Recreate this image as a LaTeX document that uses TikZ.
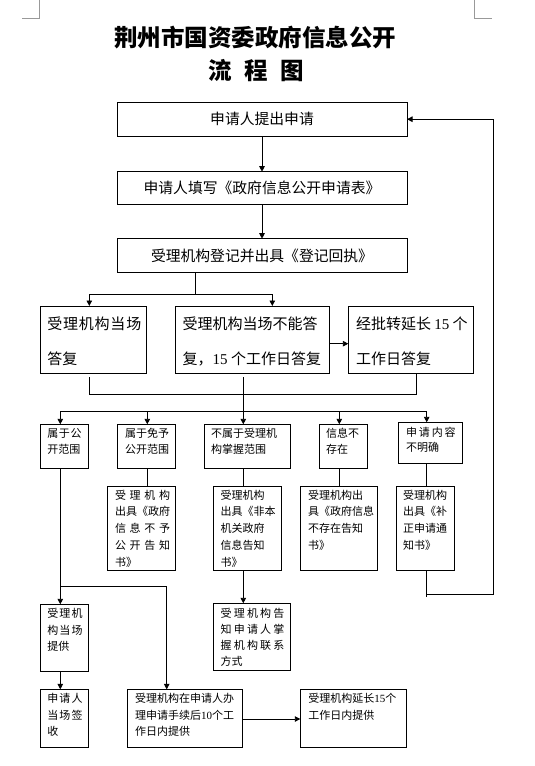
\documentclass[tikz,border=0pt]{standalone}
\usepackage{fontspec}
\setmainfont{Noto Sans CJK SC}
\newfontfamily\lat{Liberation Serif}
\usetikzlibrary{arrows.meta}
\newcommand\jb[2]{\leavevmode\hbox to #1{#2}}
\newcommand\tb[1]{\parbox[t]{220pt}{\raggedright #1}}
\begin{document}
\begin{tikzpicture}[x=1pt,y=-1pt,
  box/.style={draw,line width=0.9pt,inner sep=0pt,outer sep=0pt},
  arr/.style={-{Triangle[length=5.5pt,width=5.5pt]}},
  every path/.style={line width=0.9pt},
  tx/.style={anchor=base west,inner sep=0pt,outer sep=0pt},
  ts/.style={tx,font=\fontsize{11}{16.7}\selectfont},
  tm/.style={tx,font=\fontsize{15}{35}\selectfont},
  tt/.style={font=\fontsize{14.8}{16}\selectfont},
  cornermark/.style={draw=black!40,line width=0.8pt}]
\useasboundingbox (0,0) rectangle (535,766);
\fill[white] (0,0) rectangle (535,766);
% page corner marks
\coordinate (cl1) at (39.3,0); \coordinate (cl2) at (39.3,18); \coordinate (cl3) at (22,18);
\coordinate (cr1) at (474,0); \coordinate (cr2) at (474,18); \coordinate (cr3) at (492,18);
\draw[cornermark] (cl1) -- (cl2) -- (cl3);
\draw[cornermark] (cr1) -- (cr2) -- (cr3);
% title
\node[font=\fontsize{23.5}{24}\selectfont\bfseries] (t1) at (255,37.5) {荆州市国资委政府信息公开};
\node[font=\fontsize{23.5}{24}\selectfont\bfseries] (t2) at (256,70.5) {流\hspace{12.5pt}程\hspace{12.5pt}图};
% top boxes
\node[box,tt,minimum width=290pt,minimum height=33.7pt] (b1) at (262,119.2) {申请人提出申请};
\node[box,tt,minimum width=290pt,minimum height=32.6pt] (b2) at (262,188) {申请人填写《政府信息公开申请表》};
\node[box,tt,minimum width=290pt,minimum height=33.6pt] (b3) at (262,255.5) {受理机构登记并出具《登记回执》};
% row 1
\node[box,minimum width=106pt,minimum height=67pt] (A) at (93.3,339.5) {};
\node[box,minimum width=154pt,minimum height=67pt] (B) at (252.3,339.5) {};
\node[box,minimum width=125pt,minimum height=67pt] (C) at (410.8,339.5) {};
\node[tm] (tA) at (47.3,329.3) {\tb{\jb{94pt}{受\hfill 理\hfill 机\hfill 构\hfill 当\hfill 场}\\答复}};
\node[tm] (tB) at (182.7,329.3) {\tb{受理机构当场不能答\\复，{\lat 15} 个工作日答复}};
\node[tm] (tC) at (356,329.3) {\tb{经批转延长 {\lat 15} 个\\工作日答复}};
% row 2
\node[box,minimum width=48.4pt,minimum height=44pt] (D) at (64.5,446.3) {};
\node[box,minimum width=58pt,minimum height=44pt] (E) at (146.3,446.3) {};
\node[box,minimum width=86pt,minimum height=44pt] (F) at (247.3,446.3) {};
\node[box,minimum width=48pt,minimum height=44pt] (G) at (343.3,446.3) {};
\node[box,minimum width=64pt,minimum height=41pt] (H) at (430.3,442.8) {};
\node[ts,font=\fontsize{11}{16}\selectfont] (tD) at (47.3,437.5) {\tb{\jb{34.4pt}{属\hfill 于\hfill 公}\\开范围}};
\node[ts,font=\fontsize{11}{16}\selectfont] (tE) at (125,437.5) {\tb{属于免予\\公开范围}};
\node[ts,font=\fontsize{11}{16}\selectfont] (tF) at (211,437.5) {\tb{不属于受理机\\构掌握范围}};
\node[ts,font=\fontsize{11}{16}\selectfont] (tG) at (326,437.5) {\tb{信息不\\存在}};
\node[ts,font=\fontsize{11}{15.6}\selectfont] (tH) at (406,436) {\tb{\jb{49.7pt}{申\hfill 请\hfill 内\hfill 容}\\不明确}};
% row 3
\node[box,minimum width=68.4pt,minimum height=84.3pt] (I) at (141.5,528.2) {};
\node[box,minimum width=68pt,minimum height=84.3pt] (J) at (247.3,528.2) {};
\node[box,minimum width=77.4pt,minimum height=84.3pt] (K) at (339,528.2) {};
\node[box,minimum width=58pt,minimum height=84.3pt] (L) at (425.3,528.2) {};
\node[ts] (tI) at (115,499.2) {\tb{\jb{55pt}{受\hfill 理\hfill 机\hfill 构}\\出具《政府\\\jb{55pt}{信\hfill 息\hfill 不\hfill 予}\\\jb{55pt}{公\hfill 开\hfill 告\hfill 知}\\书》}};
\node[ts] (tJ) at (220.7,499.2) {\tb{受理机构\\出具《非本\\机关政府\\信息告知\\书》}};
\node[ts] (tK) at (308,499.2) {\tb{受理机构出\\具《政府信息\\不存在告知\\书》}};
\node[ts] (tL) at (403,499.2) {\tb{受理机构\\出具《补\\正申请通\\知书》}};
% row 4
\node[box,minimum width=48.4pt,minimum height=67pt] (N) at (64.5,637.8) {};
\node[box,minimum width=77pt,minimum height=67pt] (M) at (251.8,636.8) {};
\node[ts] (tN) at (47.3,617.5) {\tb{\jb{35.4pt}{受\hfill 理\hfill 机}\\\jb{35.4pt}{构\hfill 当\hfill 场}\\提供}};
\node[ts,font=\fontsize{11}{16.2}\selectfont] (tM) at (220.7,617) {\tb{\jb{63.7pt}{受\hfill 理\hfill 机\hfill 构\hfill 告}\\\jb{63.7pt}{知\hfill 申\hfill 请\hfill 人\hfill 掌}\\\jb{63.7pt}{握\hfill 机\hfill 构\hfill 联\hfill 系}\\方式}};
% row 5
\node[box,minimum width=48.4pt,minimum height=57.7pt] (P) at (64.5,718.2) {};
\node[box,minimum width=115pt,minimum height=57.7pt] (O) at (184.8,718.2) {};
\node[box,minimum width=106.4pt,minimum height=57.7pt] (Q) at (353.5,718.2) {};
\node[ts] (tP) at (47.3,702.5) {\tb{\jb{35.4pt}{申\hfill 请\hfill 人}\\\jb{35.4pt}{当\hfill 场\hfill 签}\\收}};
\node[ts] (tO) at (135,702.5) {\tb{受理机构在申请人办\\理申请手续后{\lat 10}个工\\作日内提供}};
\node[ts] (tQ) at (308.3,702.5) {\tb{受理机构延长{\lat 15}个\\工作日内提供}};
% connectors
\draw[arr] (b1) -- (b2);
\draw[arr] (b2) -- (b3);
\coordinate (s3) at (195.7,294.3);
\coordinate (sA) at (89.3,294.3);
\coordinate (sB) at (272.3,294.3);
\draw (b3.south -| s3) -- (s3);
\draw (sA) -- (sB);
\draw[arr] (sA) -- (sA |- A.north);
\draw[arr] (sB) -- (sB |- B.north);
\coordinate (bc) at (0,343.7);
\draw[arr] (B.east |- bc) -- (C.west |- bc);
\coordinate (mA) at (89.3,394.3);
\coordinate (mC) at (416.7,394.3);
\coordinate (mB) at (243.3,411.7);
\draw (A.south -| mA) ++(0,4.3) -- (mA) -- (mC) -- (C.south -| mC);
\draw (B.south -| mB) ++(0,4.3) -- (mB);
\coordinate (rD) at (60.3,411.7);
\coordinate (rE) at (147.3,411.7);
\coordinate (rF) at (243.3,411.7);
\coordinate (rG) at (339.3,411.7);
\coordinate (rH) at (426.7,411.7);
\draw (rD) -- (rH);
\draw[arr] (rD) -- (rD |- D.north);
\draw[arr] (rE) -- (rE |- E.north);
\draw[arr] (rF) -- (rF |- F.north);
\draw[arr] (rG) -- (rG |- G.north);
\draw[arr] (rH) -- (rH |- H.north);
\draw (E.south -| rE) -- (I.north -| rE);
\draw (F.south -| rF) -- (J.north -| rF);
\draw (G.south -| rG) -- (K.north -| rG);
\draw (H.south -| rH) -- (L.north -| rH);
\draw[arr] (J.south -| rF) -- (M.north -| rF);
\draw[arr] (D.south -| rD) -- (N.north -| rD);
\coordinate (dj) at (60.3,586.7);
\coordinate (dO) at (166.7,586.7);
\draw (dj) -- (dO);
\draw[arr] (dO) -- (O.north -| dO);
\draw[arr] (N.south -| rD) -- (P.north -| rD);
\coordinate (oq) at (0,719);
\draw[arr] (O.east |- oq) -- (Q.west |- oq);
\coordinate (f1) at (426.7,594.3);
\coordinate (f2) at (493.3,594.3);
\draw (L.south -| f1) -- ++(0,26.4);
\draw[arr] (f1) -- (f2) -- (f2 |- b1.east) -- (b1.east);
\end{tikzpicture}
\end{document}
